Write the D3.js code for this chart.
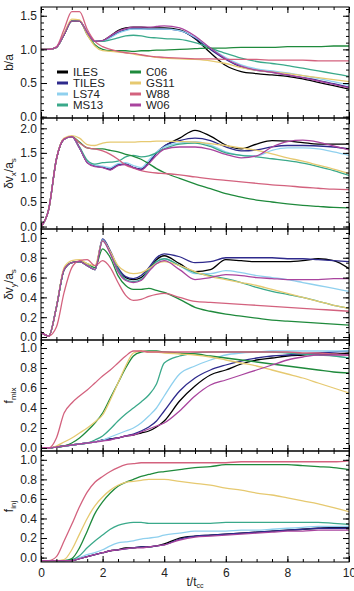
<!DOCTYPE html>
<html>
<head>
<meta charset="utf-8">
<script src="https://cdn.jsdelivr.net/npm/d3@7"></script>
<style>
body { margin: 0; background: #fff; }
text { font-family: "Liberation Sans", Arial, sans-serif; }
</style>
</head>
<body>
<div id="chart"></div>
<script>
// time grid, in units of t_cc
var times = [0, 0.25, 0.5, 0.75, 1, 1.25, 1.5, 1.75, 2, 2.25, 2.5, 2.75, 3, 3.25, 3.5, 3.75, 4, 4.5, 5, 5.5, 6, 6.5, 7, 7.5, 8, 8.5, 9, 9.5, 10];
var models = ["ILES", "TILES", "LS74", "MS13", "C06", "GS11", "W88", "W06"];
var colors = ["#000000", "#2e2a8c", "#8fd0ee", "#3aa98a", "#1f8a3c", "#e6c970", "#d3627e", "#a9449e"];

// b/a
var ratioBA = {
  ILES:  [1.0,1.0,1.03,1.22,1.42,1.42,1.25,1.12,1.13,1.2,1.28,1.32,1.33,1.33,1.32,1.32,1.32,1.29,1.16,0.95,0.76,0.67,0.64,0.62,0.6,0.56,0.51,0.46,0.41],
  TILES: [1.0,1.0,1.03,1.22,1.42,1.42,1.25,1.12,1.12,1.18,1.25,1.29,1.31,1.31,1.3,1.3,1.3,1.28,1.17,1.0,0.85,0.74,0.69,0.66,0.62,0.58,0.54,0.49,0.44],
  LS74:  [1.0,1.0,1.03,1.22,1.42,1.42,1.25,1.12,1.12,1.17,1.24,1.28,1.3,1.3,1.3,1.3,1.3,1.28,1.18,1.02,0.88,0.77,0.71,0.68,0.65,0.61,0.57,0.52,0.47],
  MS13:  [1.0,1.0,1.03,1.22,1.42,1.42,1.25,1.12,1.12,1.14,1.17,1.2,1.21,1.2,1.18,1.17,1.16,1.15,1.1,1.02,0.94,0.87,0.82,0.79,0.76,0.72,0.68,0.64,0.6],
  C06:   [1.0,1.0,1.03,1.22,1.42,1.42,1.22,1.07,1.0,0.98,0.98,0.98,0.97,0.98,0.98,0.99,0.99,1.0,1.01,1.02,1.02,1.03,1.03,1.03,1.04,1.04,1.04,1.05,1.05],
  GS11:  [1.0,1.0,1.03,1.24,1.45,1.44,1.22,1.05,0.98,0.97,0.96,0.95,0.93,0.91,0.9,0.88,0.87,0.86,0.85,0.83,0.79,0.73,0.69,0.66,0.64,0.61,0.58,0.55,0.52],
  W88:   [1.0,1.0,1.04,1.3,1.56,1.56,1.3,1.12,1.04,1.0,0.97,0.95,0.94,0.92,0.9,0.89,0.88,0.87,0.86,0.86,0.85,0.85,0.85,0.84,0.84,0.84,0.83,0.83,0.83],
  W06:   [1.0,1.0,1.03,1.22,1.42,1.42,1.25,1.12,1.13,1.2,1.27,1.31,1.33,1.33,1.33,1.34,1.35,1.32,1.2,1.02,0.86,0.75,0.69,0.66,0.62,0.58,0.53,0.48,0.43]
};

// dv_x / a_s
var dvx = {
  ILES:  [0,0.35,1.37,1.78,1.83,1.6,1.31,1.23,1.21,1.16,1.25,1.27,1.2,1.16,1.3,1.5,1.63,1.8,1.96,1.84,1.66,1.58,1.68,1.75,1.74,1.71,1.68,1.68,1.68],
  TILES: [0,0.35,1.37,1.78,1.83,1.6,1.31,1.23,1.21,1.17,1.26,1.27,1.2,1.17,1.3,1.5,1.64,1.75,1.8,1.75,1.62,1.54,1.56,1.62,1.65,1.65,1.64,1.62,1.58],
  LS74:  [0,0.35,1.37,1.78,1.83,1.6,1.32,1.25,1.23,1.2,1.28,1.3,1.24,1.2,1.35,1.52,1.62,1.7,1.73,1.66,1.52,1.45,1.44,1.55,1.6,1.6,1.58,1.52,1.45],
  MS13:  [0,0.35,1.37,1.78,1.83,1.62,1.35,1.27,1.3,1.31,1.33,1.42,1.45,1.42,1.44,1.5,1.58,1.68,1.7,1.63,1.5,1.45,1.42,1.38,1.34,1.29,1.22,1.14,1.04],
  C06:   [0,0.35,1.37,1.78,1.83,1.72,1.6,1.58,1.58,1.55,1.52,1.47,1.43,1.37,1.28,1.18,1.1,0.98,0.87,0.77,0.67,0.6,0.54,0.5,0.46,0.43,0.41,0.39,0.38],
  GS11:  [0,0.35,1.37,1.8,1.85,1.8,1.67,1.65,1.7,1.72,1.72,1.72,1.72,1.73,1.73,1.74,1.74,1.73,1.72,1.69,1.65,1.6,1.55,1.48,1.4,1.33,1.25,1.17,1.08],
  W88:   [0,0.35,1.37,1.78,1.83,1.7,1.6,1.58,1.54,1.47,1.37,1.25,1.19,1.14,1.11,1.09,1.08,1.05,1.01,0.97,0.94,0.91,0.88,0.85,0.83,0.8,0.78,0.76,0.75],
  W06:   [0,0.35,1.37,1.78,1.83,1.6,1.3,1.22,1.2,1.15,1.24,1.26,1.2,1.15,1.28,1.45,1.57,1.62,1.62,1.57,1.47,1.4,1.44,1.62,1.73,1.76,1.72,1.64,1.56]
};

// dv_y / a_s
var dvy = {
  ILES:  [0.05,0.01,0.3,0.68,0.75,0.76,0.72,0.68,0.98,0.85,0.68,0.6,0.58,0.6,0.68,0.78,0.82,0.74,0.66,0.68,0.78,0.77,0.76,0.76,0.76,0.77,0.79,0.77,0.69],
  TILES: [0.05,0.01,0.3,0.68,0.75,0.76,0.72,0.68,0.99,0.87,0.7,0.61,0.59,0.62,0.7,0.8,0.84,0.81,0.75,0.76,0.8,0.8,0.8,0.8,0.79,0.79,0.78,0.77,0.76],
  LS74:  [0.05,0.01,0.3,0.68,0.75,0.76,0.72,0.68,0.98,0.85,0.67,0.58,0.56,0.58,0.67,0.76,0.79,0.72,0.64,0.64,0.67,0.65,0.62,0.6,0.58,0.55,0.52,0.49,0.46],
  MS13:  [0.05,0.01,0.3,0.68,0.75,0.76,0.72,0.68,0.97,0.85,0.68,0.58,0.56,0.58,0.68,0.76,0.79,0.72,0.65,0.62,0.59,0.55,0.5,0.46,0.43,0.4,0.36,0.32,0.29],
  C06:   [0.05,0.01,0.3,0.68,0.75,0.76,0.74,0.7,0.89,0.8,0.62,0.52,0.48,0.48,0.49,0.47,0.45,0.38,0.3,0.26,0.23,0.21,0.19,0.17,0.16,0.15,0.14,0.13,0.12],
  GS11:  [0.05,0.01,0.3,0.7,0.77,0.78,0.74,0.72,0.97,0.86,0.72,0.66,0.64,0.65,0.69,0.74,0.76,0.72,0.66,0.61,0.58,0.55,0.52,0.48,0.44,0.4,0.36,0.32,0.29],
  W88:   [0.05,0.01,0.1,0.45,0.7,0.77,0.78,0.72,0.77,0.7,0.55,0.42,0.37,0.38,0.41,0.43,0.44,0.4,0.36,0.35,0.34,0.33,0.32,0.31,0.3,0.29,0.28,0.27,0.26],
  W06:   [0.05,0.01,0.3,0.68,0.75,0.76,0.72,0.68,0.97,0.84,0.66,0.57,0.55,0.57,0.66,0.74,0.77,0.68,0.58,0.6,0.63,0.62,0.6,0.59,0.58,0.58,0.58,0.59,0.59]
};

// f_mix
var fMix = {
  ILES:  [0,0,0.01,0.02,0.03,0.04,0.05,0.06,0.08,0.09,0.1,0.12,0.13,0.15,0.17,0.21,0.27,0.47,0.62,0.73,0.78,0.84,0.88,0.9,0.92,0.93,0.94,0.94,0.95],
  TILES: [0,0,0.01,0.02,0.03,0.04,0.05,0.06,0.08,0.09,0.1,0.12,0.14,0.17,0.21,0.27,0.37,0.57,0.7,0.78,0.83,0.87,0.9,0.92,0.93,0.94,0.95,0.96,0.97],
  LS74:  [0,0,0.01,0.02,0.03,0.04,0.05,0.06,0.08,0.11,0.14,0.17,0.2,0.25,0.32,0.4,0.52,0.74,0.82,0.88,0.93,0.95,0.96,0.97,0.97,0.97,0.97,0.97,0.97],
  MS13:  [0,0,0.01,0.02,0.03,0.04,0.05,0.08,0.12,0.19,0.27,0.34,0.4,0.46,0.53,0.64,0.85,0.92,0.95,0.96,0.96,0.96,0.96,0.96,0.95,0.94,0.93,0.92,0.9],
  C06:   [0,0,0.01,0.02,0.05,0.1,0.17,0.25,0.35,0.5,0.65,0.8,0.92,0.96,0.97,0.97,0.96,0.95,0.94,0.92,0.9,0.88,0.86,0.84,0.82,0.8,0.78,0.76,0.75],
  GS11:  [0,0,0.02,0.06,0.1,0.15,0.2,0.26,0.33,0.48,0.65,0.82,0.95,0.97,0.96,0.96,0.95,0.94,0.93,0.91,0.88,0.85,0.82,0.78,0.74,0.7,0.65,0.6,0.55],
  W88:   [0,0,0.1,0.35,0.45,0.52,0.58,0.65,0.72,0.78,0.85,0.92,0.97,0.97,0.96,0.96,0.96,0.96,0.96,0.96,0.96,0.96,0.96,0.96,0.96,0.95,0.95,0.94,0.93],
  W06:   [0,0,0.01,0.02,0.03,0.04,0.05,0.06,0.07,0.08,0.1,0.12,0.13,0.16,0.19,0.22,0.25,0.37,0.52,0.63,0.68,0.73,0.78,0.83,0.88,0.91,0.93,0.93,0.93]
};

// f_inj
var fInj = {
  ILES:  [-0.03,-0.03,-0.03,-0.03,-0.03,-0.01,0.01,0.03,0.05,0.07,0.08,0.1,0.1,0.11,0.11,0.12,0.14,0.2,0.22,0.23,0.24,0.25,0.26,0.27,0.28,0.29,0.3,0.31,0.31],
  TILES: [-0.03,-0.03,-0.03,-0.03,-0.03,-0.01,0.01,0.03,0.05,0.07,0.08,0.09,0.1,0.11,0.11,0.12,0.13,0.19,0.22,0.23,0.24,0.25,0.26,0.27,0.28,0.29,0.3,0.3,0.3],
  LS74:  [-0.03,-0.03,-0.03,-0.03,-0.02,0.0,0.03,0.05,0.08,0.12,0.15,0.16,0.17,0.19,0.2,0.21,0.23,0.25,0.27,0.27,0.27,0.28,0.28,0.29,0.3,0.31,0.32,0.32,0.32],
  MS13:  [-0.03,-0.03,-0.03,-0.03,-0.02,0.02,0.1,0.17,0.23,0.29,0.33,0.35,0.36,0.36,0.35,0.35,0.35,0.35,0.35,0.35,0.36,0.36,0.36,0.36,0.36,0.36,0.36,0.35,0.34],
  C06:   [-0.03,-0.03,-0.03,-0.03,-0.01,0.1,0.27,0.45,0.57,0.66,0.73,0.77,0.8,0.83,0.85,0.87,0.88,0.9,0.92,0.93,0.95,0.95,0.95,0.95,0.95,0.94,0.93,0.92,0.9],
  GS11:  [-0.03,-0.03,-0.03,-0.02,0.08,0.24,0.4,0.53,0.62,0.69,0.74,0.77,0.78,0.79,0.8,0.8,0.8,0.78,0.76,0.74,0.71,0.69,0.66,0.64,0.61,0.58,0.55,0.51,0.47],
  W88:   [-0.03,-0.03,0.01,0.17,0.34,0.52,0.67,0.77,0.83,0.88,0.92,0.95,0.96,0.97,0.97,0.97,0.97,0.97,0.97,0.97,0.97,0.98,0.98,0.98,0.98,0.98,0.98,0.98,0.99],
  W06:   [-0.03,-0.03,-0.03,-0.03,-0.03,-0.01,0.01,0.03,0.05,0.07,0.08,0.09,0.1,0.1,0.11,0.12,0.13,0.18,0.21,0.22,0.23,0.24,0.25,0.26,0.27,0.27,0.28,0.28,0.28]
};

var panels = [
  {data: ratioBA, main: "b/a", sub: "", rest: "", domain: [-0.02, 1.63], major: 0.5, minor: 0.1, top: 1.5},
  {data: dvx, main: "\u03b4v", sub: "x", rest: "/a", sub2: "s", domain: [-0.05, 2.21], major: 0.5, minor: 0.1, top: 2.0},
  {data: dvy, main: "\u03b4v", sub: "y", rest: "/a", sub2: "s", domain: [-0.03, 1.09], major: 0.2, minor: 0.05, top: 1.0},
  {data: fMix, main: "f", sub: "mix", rest: "", domain: [-0.03, 1.08], major: 0.2, minor: 0.05, top: 1.0},
  {data: fInj, main: "f", sub: "inj", rest: "", domain: [-0.045, 1.09], major: 0.2, minor: 0.05, top: 1.0}
];

var margin = {top: 7, right: 5, bottom: 29, left: 41};
var totalW = 354, totalH = 591;
var width = totalW - margin.left - margin.right;
var panelH = (totalH - margin.top - margin.bottom) / panels.length;

var svg = d3.select("#chart").append("svg")
    .attr("width", totalW)
    .attr("height", totalH)
    .append("g")
    .attr("transform", "translate(" + margin.left + "," + margin.top + ")");

var x = d3.scaleLinear().domain([0, 10]).range([0, width]);
var xMajor = d3.range(0, 10.01, 2);
var xMinor = d3.range(0, 10.01, 0.5);

svg.append("defs").append("clipPath")
    .attr("id", "clip")
    .append("rect")
    .attr("width", width)
    .attr("height", panelH);

panels.forEach(function (p, pi) {
    var g = svg.append("g")
        .attr("transform", "translate(0," + (pi * panelH) + ")");

    var y = d3.scaleLinear().domain(p.domain).range([panelH, 0]);
    var yMajor = d3.range(0, p.top + 1e-6, p.major);
    var yMinor = d3.range(0, p.domain[1], p.minor);

    var line = d3.line()
        .x(function (d) { return x(d[0]); })
        .y(function (d) { return y(d[1]); })
        .curve(d3.curveMonotoneX);

    var lines = g.append("g").attr("clip-path", "url(#clip)");
    models.forEach(function (m, i) {
        var pts = times.map(function (t, k) { return [t, p.data[m][k]]; });
        lines.append("path")
            .attr("d", line(pts))
            .attr("fill", "none")
            .attr("stroke", colors[i])
            .attr("stroke-width", 1.3);
    });

    // minor ticks on all four sides
    g.append("g").call(d3.axisLeft(y).tickValues(yMinor).tickSize(-3).tickFormat(""));
    g.append("g").attr("transform", "translate(" + width + ",0)")
        .call(d3.axisRight(y).tickValues(yMinor).tickSize(-3).tickFormat(""));
    g.append("g").call(d3.axisTop(x).tickValues(xMinor).tickSize(-3).tickFormat(""));
    g.append("g").attr("transform", "translate(0," + panelH + ")")
        .call(d3.axisBottom(x).tickValues(xMinor).tickSize(-3).tickFormat(""));

    // major ticks
    g.append("g").attr("class", "yax")
        .call(d3.axisLeft(y).tickValues(yMajor).tickSize(-6).tickPadding(4).tickFormat(d3.format(".1f")));
    g.append("g").attr("transform", "translate(" + width + ",0)")
        .call(d3.axisRight(y).tickValues(yMajor).tickSize(-6).tickFormat(""));
    g.append("g").call(d3.axisTop(x).tickValues(xMajor).tickSize(-6).tickFormat(""));
    g.append("g").attr("transform", "translate(0," + panelH + ")")
        .call(d3.axisBottom(x).tickValues(xMajor).tickSize(-6).tickPadding(6)
            .tickFormat(pi === panels.length - 1 ? d3.format("d") : ""));

    g.selectAll(".domain").remove();
    g.selectAll(".tick line").attr("stroke", "#000");
    g.selectAll(".tick text").attr("fill", "#222").style("font-size", "12px");

    g.append("rect")
        .attr("width", width)
        .attr("height", panelH)
        .attr("fill", "none")
        .attr("stroke", "#000")
        .attr("stroke-width", 1);

    // y title
    var title = g.append("text")
        .attr("transform", "translate(" + (-28) + "," + (panelH / 2) + ") rotate(-90)")
        .attr("text-anchor", "middle")
        .attr("fill", "#222")
        .style("font-size", "12px");
    title.append("tspan").text(p.main);
    if (p.sub) title.append("tspan").attr("dy", 3).style("font-size", "8px").text(p.sub);
    if (p.rest) title.append("tspan").attr("dy", -3).text(p.rest);
    if (p.sub2) title.append("tspan").attr("dy", 3).style("font-size", "8px").text(p.sub2);
});

// x title
var xt = svg.append("text")
    .attr("x", width / 2)
    .attr("y", panels.length * panelH + 24)
    .attr("text-anchor", "middle")
    .attr("fill", "#222")
    .style("font-size", "12px");
xt.append("tspan").text("t/t");
xt.append("tspan").attr("dy", 2).style("font-size", "7px").text("cc");

// legend in the top panel
var legend = svg.append("g").attr("transform", "translate(16,65)");
models.forEach(function (m, i) {
    var col = Math.floor(i / 4), row = i % 4;
    var lg = legend.append("g")
        .attr("transform", "translate(" + (col * 73) + "," + (row * 11) + ")");
    lg.append("line")
        .attr("x1", 0).attr("x2", 11)
        .attr("stroke", colors[i])
        .attr("stroke-width", 3);
    lg.append("text")
        .attr("x", 16)
        .attr("dy", "0.35em")
        .attr("fill", "#222")
        .style("font-size", "11.5px")
        .text(m);
});
</script>
</body>
</html>
